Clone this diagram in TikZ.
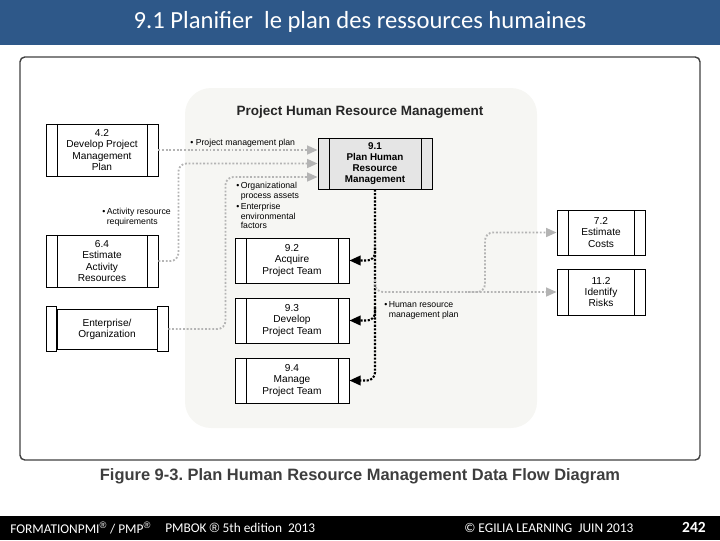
\documentclass[tikz,border=0pt]{standalone}
\usepackage{fontspec}
\setmainfont{Liberation Sans}
\newfontfamily\slidefont{Carlito}
\usetikzlibrary{calc,arrows.meta}

\definecolor{slideblue}{RGB}{46,88,137}
\definecolor{flowgray}{RGB}{180,180,180}
\definecolor{areagray}{RGB}{246,246,243}
\definecolor{capgray}{RGB}{62,62,62}

\tikzset{
  process/.style={draw, line width=0.6pt, align=center, inner sep=1pt,
    font=\fontsize{7.2}{7.9}\selectfont,
    minimum width=2.85cm, minimum height=1.125cm,
    path picture={
      \draw[line width=0.6pt] ([xshift=0.28cm]path picture bounding box.north west)
                           -- ([xshift=0.28cm]path picture bounding box.south west);
      \draw[line width=0.6pt] ([xshift=-0.26cm]path picture bounding box.north east)
                           -- ([xshift=-0.26cm]path picture bounding box.south east);
    }},
  flow/.style={draw=flowgray, line width=1.3pt, dash pattern=on 1.3pt off 1.3pt,
    rounded corners=0.2cm, -{Triangle[length=0.26cm,width=0.22cm,fill=flowgray]}},
  hrline/.style={draw=black, line width=1.5pt, dash pattern=on 1.5pt off 1.1pt,
    rounded corners=0.2cm, -{Triangle[length=0.28cm,width=0.24cm]}},
  flowlabel/.style={inner sep=0pt, align=left, font=\fontsize{6.2}{7}\selectfont},
  footer/.style={text=white, inner sep=0pt, font=\slidefont\fontsize{9.5}{10}\selectfont}
}

\newcommand{\regmark}{{\sffamily\fontspec{Liberation Sans}®}}

\begin{document}
\begin{tikzpicture}[x=0.025cm,y=-0.025cm]
  \useasboundingbox (0,0) rectangle (720,540);

  %% Slide title and footer bars
  \fill[slideblue] (0,0) rectangle (720,45);
  \node[text=white, font=\slidefont\fontsize{17.5}{19}\selectfont] (title) at (360,22)
    {9.1 Planifier~ le plan des ressources humaines};
  \fill[black] (0,516) rectangle (720,540);
  \node[footer, anchor=west] (ftpmi) at (10,528)
    {FORMATIONPMI\textsuperscript{\regmark} / PMP\textsuperscript{\regmark}};
  \node[footer, anchor=west] (ftpmbok) at (165,528) {PMBOK \regmark{} 5th edition~ 2013};
  \node[footer, anchor=west] (ftegilia) at (464,528) {© EGILIA LEARNING~ JUIN 2013};
  \node[footer, anchor=east, font=\slidefont\bfseries\fontsize{11}{12}\selectfont] (ftpage) at (706,527) {242};

  %% Figure frame and process group area
  \draw[line width=1pt, draw=black!75, rounded corners=0.12cm] (20,57) rectangle (700,460);
  \fill[areagray, rounded corners=0.65cm] (185,88) rectangle (537,428);
  \node[font=\bfseries\fontsize{9.6}{11}\selectfont, text=black!85] (grouptitle) at (360,112)
    {Project Human Resource Management};

  %% Process boxes
  \node[process, minimum width=2.8cm, minimum height=1.3cm] (p42) at (102,150) {4.2\\Develop Project\\Management\\Plan};
  \node[process, minimum width=2.8cm, minimum height=1.3cm] (p64) at (102,261) {6.4\\Estimate\\Activity\\Resources};
  \node[process, fill=black!10, minimum height=1.275cm, font=\bfseries\fontsize{7}{7.9}\selectfont] (p91) at (375,163.5)
    {9.1\\Plan Human\\Resource\\Management};
  \node[process, fill=white] (p92) at (292,260.5) {9.2\\Acquire\\Project Team};
  \node[process, fill=white] (p93) at (292,320.5) {9.3\\Develop\\Project Team};
  \node[process, fill=white] (p94) at (292,380.5) {9.4\\Manage\\Project Team};
  \node[process, minimum width=2.2cm] (p72) at (601,232.5) {7.2\\Estimate\\Costs};
  \node[process, minimum width=2.2cm, minimum height=1.15cm] (p112) at (601,292) {11.2\\Identify\\Risks};

  %% Enterprise / organization scroll
  \node[draw, line width=0.6pt, align=center, font=\fontsize{7.2}{7.9}\selectfont,
        minimum width=2.5cm, minimum height=1.0cm] (ent) at (107,329) {Enterprise/\\Organization};
  \draw[line width=0.6pt] ($(ent.north west)+(-10,-2)$) rectangle ($(ent.south west)+(0,2)$);
  \draw[line width=0.6pt] ($(ent.north east)+(0,-2)$) rectangle ($(ent.south east)+(11,2)$);
  \coordinate (entout) at ($(ent.east)+(11,0)$);

  %% Inputs to 9.1
  \draw[flow] (p42.east) -- (p42.east -| p91.west);
  \draw[flow] (p64.east) -- ++(20,0) |- (p91.west);
  \draw[flow] (entout) -- ++(57,0) |- ($(p91.west)+(0,13.5)$);

  \node[flowlabel, anchor=west] (lblpmp) at (190,143) {• Project management plan};
  \node[flowlabel, anchor=north east] (lblact) at (171,207)
    {\begin{tabular}{@{}l@{\,}l@{}}• & Activity resource\\ & requirements\end{tabular}};
  \node[flowlabel, anchor=north west] (lblopa) at (236,181)
    {\begin{tabular}{@{}l@{\,}l@{}}• & Organizational\\ & process assets\\[1pt]
      • & Enterprise\\ & environmental\\ & factors\end{tabular}};

  %% Human resource management plan to the team processes
  \draw[hrline] (p91.south) |- (p94.east);
  \draw[hrline] ($(p92.east -| p91.south)+(0,-13)$) |- (p92.east);
  \draw[hrline] ($(p93.east -| p91.south)+(0,-13)$) |- (p93.east);

  %% Human resource management plan to other processes
  \draw[flow] ($(p112.west -| p91.south)+(0,-12)$) |- (p112.west);
  \coordinate (hrsplit) at (468,292);
  \draw[flow] (hrsplit) -- ++(17,0) |- (p72.west);
  \node[flowlabel, anchor=north west] (lblhr) at (384,300)
    {\begin{tabular}{@{}l@{\,}l@{}}• & Human resource\\ & management plan\end{tabular}};

  %% Caption
  \node[font=\bfseries\fontsize{11.7}{13}\selectfont, text=capgray] (caption) at (360,476)
    {Figure 9-3.\ Plan Human Resource Management Data Flow Diagram};
\end{tikzpicture}
\end{document}
